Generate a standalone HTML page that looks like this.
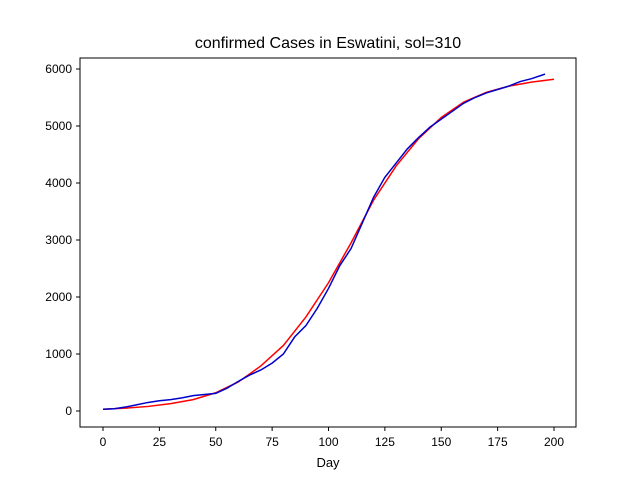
<!DOCTYPE html>
<html><head><meta charset="utf-8"><style>
body{margin:0;background:#fff;}
svg text{font-family:"Liberation Sans","DejaVu Sans",sans-serif;}
</style></head><body>
<svg id="chart" width="640" height="480" xmlns="http://www.w3.org/2000/svg">
<rect width="640" height="480" fill="#fff"/>
<text x="328" y="48" font-size="16" text-anchor="middle">confirmed Cases in Eswatini, sol=310</text>
<g id="axes"></g>
<rect x="80" y="58" width="496" height="369" fill="none" stroke="#000" stroke-width="1"/>
<text x="328" y="467" font-size="13" text-anchor="middle">Day</text>
</svg>
<script>
const xTicks=[0,25,50,75,100,125,150,175,200];
const yTicks=[0,1000,2000,3000,4000,5000,6000];
const dataDays=[0,5,10,15,20,25,30,35,40,45,50,55,60,65,70,75,80,85,90,95,100,105,110,115,120,125,130,135,140,145,150,155,160,165,170,175,180,185,190,196];
const dataCases=[30,40,70,110,150,180,200,230,270,290,310,400,520,630,720,840,1000,1300,1500,1800,2150,2550,2850,3300,3750,4100,4350,4600,4800,4980,5120,5260,5400,5500,5580,5640,5700,5780,5830,5910];
const fitDays=[0,10,20,30,40,50,60,70,80,90,100,110,120,130,140,150,160,170,180,190,200];
const fitCases=[30,50,80,130,200,320,510,790,1150,1650,2250,2950,3700,4300,4780,5150,5420,5590,5700,5770,5820];
const X=d=>103+d*(554-103)/200;
const Y=v=>411-v*(411-69)/6000;
const NS='http://www.w3.org/2000/svg';
const g=document.getElementById('axes');
function el(t,a){const e=document.createElementNS(NS,t);for(const k in a)e.setAttribute(k,a[k]);g.appendChild(e);return e;}
xTicks.forEach(t=>{
 const l=el('line',{x1:X(t),x2:X(t),y1:427,y2:431,stroke:'#000'});
 
 
 const tx=el('text',{x:X(t),y:446,'font-size':12,'text-anchor':'middle'});tx.textContent=t;
 
 
});
yTicks.forEach(t=>{
 const l=el('line',{x1:76,x2:80,y1:Y(t),y2:Y(t),stroke:'#000'});
 
 
 const tx=el('text',{x:72,y:Y(t)+4,'font-size':12,'text-anchor':'end'});tx.textContent=t;
 
 
});
const fit=el('polyline',{points:fitDays.map((d,i)=>X(d)+','+Y(fitCases[i])).join(' '),fill:'none',stroke:'#ff0000','stroke-width':1.5});


const dat=el('polyline',{points:dataDays.map((d,i)=>X(d)+','+Y(dataCases[i])).join(' '),fill:'none',stroke:'#0000cc','stroke-width':1.5});


</script>
</body></html>
